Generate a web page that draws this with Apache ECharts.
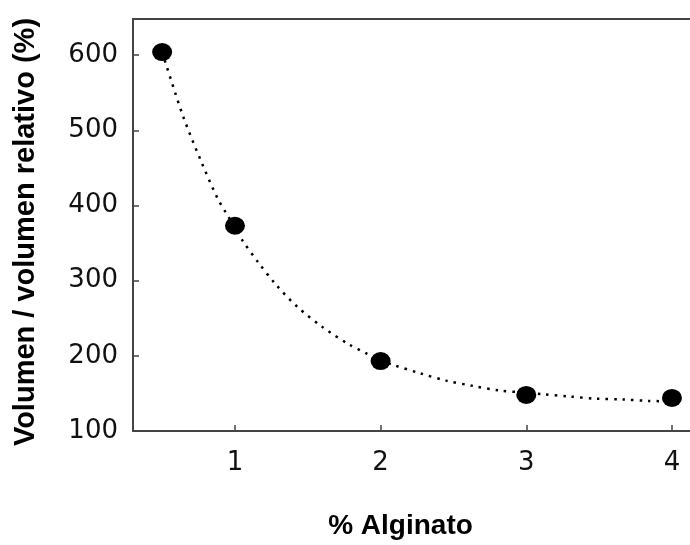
<!DOCTYPE html>
<html>
<head>
<meta charset="utf-8">
<script src="https://cdn.jsdelivr.net/npm/echarts@6/dist/echarts.min.js"></script>
<style>
html,body{margin:0;padding:0;background:#fff;}
#c{width:690px;height:545px;}
</style>
</head>
<body>
<div id="c"></div>
<script>
// Measured points
var alginato = [0.5, 1, 2, 3, 4];
var volumen = [604, 373, 193, 148, 144];
// Dotted fitted curve
var curveX = [0.5, 0.531, 0.647, 0.767, 0.879, 0.936, 1.0, 1.053, 1.161, 1.28, 1.429, 1.603, 1.784, 1.905, 2.0, 2.084, 2.267, 2.451, 2.634, 2.812, 3.0, 3.111, 3.293, 3.477, 3.66, 3.843, 4.0];
var curveY = [604, 585, 517, 459, 410, 391, 371, 353, 324, 295, 265, 238, 215, 203, 194, 188, 177, 167, 160, 154, 151, 149, 146, 143, 142, 140, 139.5];
// Tick labels
var xTicks = [1, 2, 3, 4];
var yTicks = [100, 200, 300, 400, 500, 600];

var chart = echarts.init(document.getElementById('c'), null, {renderer: 'canvas'});
var axisColor = '#444';
var option = {
  animation: false,
  backgroundColor: '#fff',
  grid: {left: 133, right: 0, top: 19, bottom: 113, containLabel: false},
  xAxis: [{
    type: 'value', min: 0.3, max: 4.124, position: 'bottom',
    name: '% Alginato', nameLocation: 'middle', nameGap: 81,
    nameTextStyle: {fontFamily: 'Liberation Sans', fontWeight: 'bold', fontSize: 28, color: '#000', padding: [0, 22, 0, 0]},
    axisLine: {show: true, onZero: false, lineStyle: {color: axisColor, width: 2}},
    axisTick: {show: true, inside: true, length: 6, customValues: xTicks, lineStyle: {color: axisColor, width: 1.5}},
    axisLabel: {show: true, customValues: xTicks, margin: 19, fontFamily: 'DejaVu Sans', fontSize: 26, color: '#111'},
    splitLine: {show: false}
  }, {
    type: 'value', min: 0.3, max: 4.124, position: 'top',
    axisLine: {show: true, onZero: false, lineStyle: {color: axisColor, width: 2}},
    axisTick: {show: false}, axisLabel: {show: false}, splitLine: {show: false}
  }],
  yAxis: [{
    type: 'value', min: 100, max: 648,
    name: 'Volumen / volumen relativo (%)', nameLocation: 'middle', nameGap: 93, nameRotate: 90,
    nameTextStyle: {fontFamily: 'Liberation Sans', fontWeight: 'bold', fontSize: 29, color: '#000', padding: [0, 14, 0, 0]},
    axisLine: {show: true, onZero: false, lineStyle: {color: axisColor, width: 2}},
    axisTick: {show: true, inside: true, length: 6, customValues: yTicks, lineStyle: {color: axisColor, width: 1.5}},
    axisLabel: {show: true, customValues: yTicks, margin: 15, fontFamily: 'DejaVu Sans', fontSize: 26, color: '#111'},
    splitLine: {show: false}
  }],
  series: [{
    type: 'line',
    data: curveX.map(function (x, i) { return [x, curveY[i]]; }),
    smooth: 0.3,
    showSymbol: false,
    lineStyle: {color: '#000', width: 2.5, type: [2.5, 6]},
    z: 2
  }, {
    type: 'scatter',
    data: alginato.map(function (x, i) { return [x, volumen[i]]; }),
    symbol: 'circle',
    symbolSize: [20, 18],
    itemStyle: {color: '#000', opacity: 1},
    z: 3
  }]
};
chart.setOption(option);
</script>
</body>
</html>
